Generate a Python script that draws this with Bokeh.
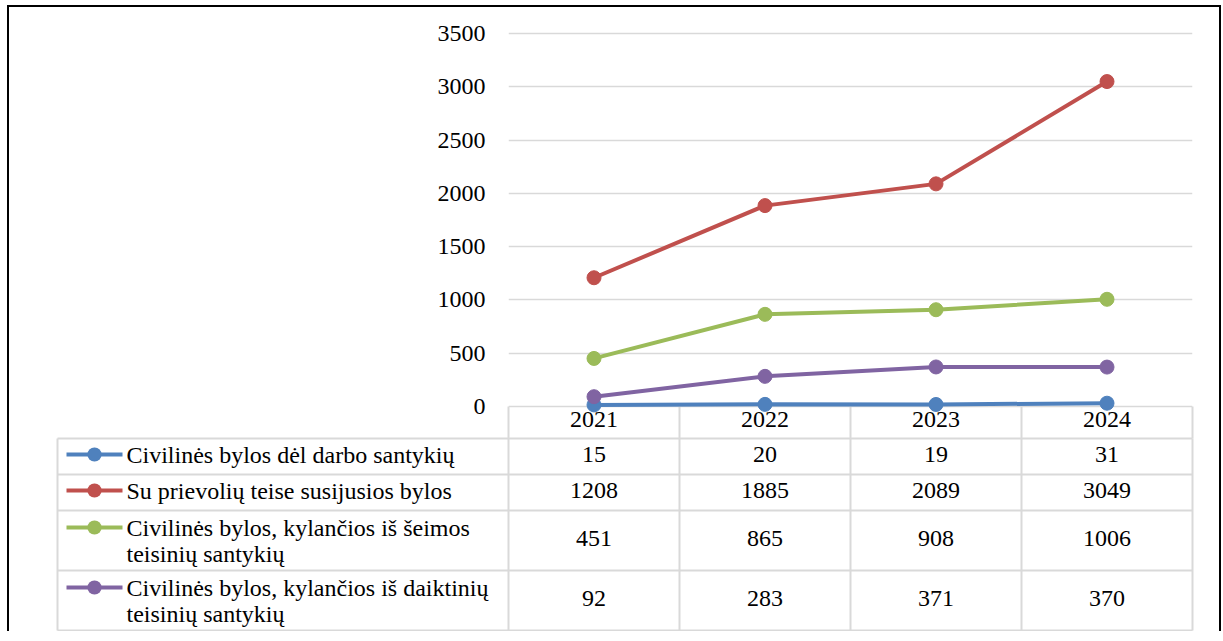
from bokeh.plotting import figure
from bokeh.layouts import column
from bokeh.models import Range1d, FixedTicker
from bokeh.core.properties import value
from bokeh.embed import file_html
from bokeh.resources import INLINE

# ---------------- data ----------------
years = ["2021", "2022", "2023", "2024"]
series_names = [
    "Civilinės bylos dėl darbo santykių",
    "Su prievolių teise susijusios bylos",
    "Civilinės bylos, kylančios iš šeimos\nteisinių santykių",
    "Civilinės bylos, kylančios iš daiktinių\nteisinių santykių",
]
darbo = [15, 20, 19, 31]
prievoliu = [1208, 1885, 2089, 3049]
seimos = [451, 865, 908, 1006]
daiktiniu = [92, 283, 371, 370]
y_ticks = [0, 500, 1000, 1500, 2000, 2500, 3000, 3500]

series = [darbo, prievoliu, seimos, daiktiniu]
colors = ["#4f81bd", "#c0504d", "#9bbb59", "#8064a2"]
FONT = "Liberation Serif"
FS = "24px"
GRID = "#d9d9d9"

# ---------------- layout constants (pixels on the page) ----------------
OX, OY = 9, 7                      # content origin (inside the border)
FRAME_L, FRAME_R, FRAME_T, FRAME_B = 508, 1192, 28, 631
U = 171.0                          # px per category
X0_PX = 508.0                      # page x of category boundary 0
ZERO_PX, TOP_PX = 406.0, 33.0      # page y of 0 and 3500
K = (ZERO_PX - TOP_PX) / 3500.0    # px per unit


def dx(px):
    return (px - X0_PX) / U


def dy(px):
    return (ZERO_PX - px) / K


xs = [i + 0.5 for i in range(len(years))]

p = figure(width=1219 - OX, height=FRAME_B - OY, output_backend="svg",
           toolbar_location=None,
           x_range=Range1d(dx(FRAME_L), dx(FRAME_R)),
           y_range=Range1d(dy(FRAME_B), dy(FRAME_T)),
           x_axis_location=None,
           min_border_left=FRAME_L - OX, min_border_right=1219 - FRAME_R,
           min_border_top=FRAME_T - OY, min_border_bottom=0)
p.outline_line_color = None
p.xgrid.visible = False
p.ygrid.ticker = FixedTicker(ticks=y_ticks)
p.ygrid.grid_line_color = GRID
p.ygrid.grid_line_width = 1.5
ax = p.yaxis[0]
ax.ticker = FixedTicker(ticks=y_ticks)
ax.axis_line_color = None
ax.major_tick_line_color = None
ax.minor_tick_line_color = None
ax.major_tick_out = 0
ax.major_label_standoff = 23
ax.major_label_text_font = FONT
ax.major_label_text_font_size = FS
ax.major_label_text_color = "black"

# ---------------- data table below the chart ----------------
hdr_top, hdr_bot = ZERO_PX, 438
row_edges = [438, 474, 510, 570, 630]
left_edge = 57
col_edges = [left_edge] + [X0_PX + i * U for i in range(5)]

# header row (years)
p.segment(x0=list(range(5)), y0=[dy(hdr_top)] * 5, x1=list(range(5)), y1=[dy(hdr_bot)] * 5,
          line_color=GRID, line_width=2, level="overlay")
p.text(x=xs, y=[dy(419)] * 4, text=years, text_font=value(FONT), text_font_size=FS,
       text_align="center", text_baseline="middle", text_color="black")

# table grid
p.segment(x0=[dx(left_edge)] * 5, y0=[dy(r) for r in row_edges],
          x1=[4] * 5, y1=[dy(r) for r in row_edges],
          line_color=GRID, line_width=2, level="overlay")
p.segment(x0=[dx(c) for c in col_edges], y0=[dy(row_edges[0])] * 6,
          x1=[dx(c) for c in col_edges], y1=[dy(row_edges[-1])] * 6,
          line_color=GRID, line_width=2, level="overlay")

row_centers = [(row_edges[i] + row_edges[i + 1]) / 2 for i in range(4)]
anchor_px = X0_PX + xs[0] * U          # a point inside the frame
for i, (name, vals, c) in enumerate(zip(series_names, series, colors)):
    lines = name.split("\n")
    if len(lines) == 1:
        ys = [row_centers[i] - 2]
    else:
        ys = [row_centers[i] - 13, row_centers[i] + 13]
    # legend key: line + round dot
    p.segment(x0=[dx(66)], y0=[dy(ys[0])], x1=[dx(122)], y1=[dy(ys[0])],
              line_color=c, line_width=4, level="overlay")
    p.segment(x0=[dx(93.9)], y0=[dy(ys[0])], x1=[dx(94.1)], y1=[dy(ys[0])],
              line_color=c, line_width=14, line_cap="round", level="overlay")
    # legend text (anchored inside the frame, shifted to the left column)
    p.text(x=[xs[0]] * len(lines), y=[dy(yy) for yy in ys], text=lines,
           x_offset=126 - anchor_px, text_font=value(FONT), text_font_size=FS,
           text_align="left", text_baseline="middle", text_color="black",
           level="overlay")
    # values
    p.text(x=xs, y=[dy(row_centers[i] - 2)] * 4, text=[str(v) for v in vals],
           text_font=value(FONT), text_font_size=FS, text_align="center",
           text_baseline="middle", text_color="black")

# ---------------- series lines ----------------
for vals, c in zip(series, colors):
    p.line(xs, vals, line_color=c, line_width=4, level="overlay")
    p.scatter(xs, vals, size=14, fill_color=c, line_color=c, level="overlay")

layout = column(p, styles={"border-top": "2px solid black",
                           "border-left": "2px solid black",
                           "border-right": "2px solid black",
                           "margin-left": "7px", "margin-top": "5px"})

open("out.html", "w").write(file_html(layout, INLINE))
